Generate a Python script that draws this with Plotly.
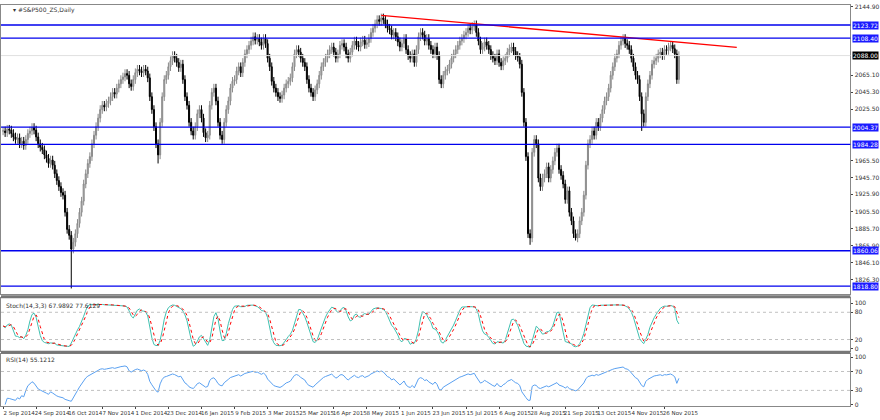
import numpy as np
import pandas as pd
import plotly.graph_objects as go

# ========== DATA ==========
closes = [
    2000, 1998, 2002, 2001, 1997, 1993, 1990, 1992, 1985, 1988,
    1983, 1990, 1997, 2000, 2004, 2001, 1993, 1985, 1981, 1978,
    1972, 1968, 1962, 1966, 1960, 1950, 1942, 1935, 1928, 1925,
    1905, 1885, 1878, 1862, 1870, 1880, 1892, 1905, 1918, 1938,
    1950, 1962, 1970, 1985, 1995, 2005, 2015, 2025, 2030, 2028,
    2032, 2035, 2040, 2045, 2043, 2050, 2055, 2060, 2063, 2067,
    2065, 2055, 2052, 2060, 2068, 2072, 2070, 2068, 2072, 2070,
    2062, 2040, 2025, 2005, 1985, 1972, 2010, 2040, 2060, 2065,
    2075, 2082, 2088, 2085, 2080, 2074, 2078, 2060, 2040, 2030,
    2010, 2000, 1995, 2005, 2020, 2025, 2015, 1998, 1992, 1995,
    2030, 2045, 2050, 2035, 2010, 1995, 1990, 2010, 2025, 2035,
    2050, 2058, 2060, 2070, 2075, 2068, 2080, 2090, 2095, 2100,
    2105, 2110, 2106, 2108, 2104, 2100, 2108, 2102, 2085, 2075,
    2058, 2050, 2045, 2040, 2038, 2042, 2050, 2055, 2058, 2062,
    2075, 2090, 2095, 2092, 2085, 2080, 2075, 2060, 2050, 2045,
    2040, 2048, 2055, 2065, 2075, 2080, 2085, 2090, 2095, 2098,
    2092, 2085, 2090, 2100, 2102, 2098, 2090, 2085, 2092, 2100,
    2105, 2100, 2098, 2104, 2106, 2101, 2103, 2108, 2115, 2120,
    2125, 2130, 2128, 2132, 2130, 2125, 2120, 2118, 2112, 2115,
    2110, 2104, 2098, 2102, 2108, 2095, 2088, 2085, 2090, 2080,
    2095, 2110, 2115, 2112, 2105, 2108, 2100, 2095, 2090, 2098,
    2088, 2060, 2055, 2065, 2070, 2072, 2078, 2085, 2090, 2095,
    2100, 2105, 2108, 2112, 2115, 2120, 2118, 2122, 2124, 2115,
    2105, 2095, 2098, 2104, 2100, 2095, 2088, 2085, 2082, 2090,
    2080, 2076, 2082, 2085, 2092, 2096, 2098, 2093, 2088, 2086,
    2078, 2045, 2010, 1970, 1880, 1875, 1975, 1990, 1985, 1945,
    1935, 1945, 1950, 1958, 1945, 1955, 1965, 1975, 1980, 1955,
    1948, 1938, 1920, 1930, 1905, 1895, 1880, 1875, 1880, 1895,
    1905, 1925, 1960, 1985, 1990, 2000, 1995, 2010, 2005, 2015,
    2025, 2035, 2040, 2050, 2065, 2075, 2085, 2090, 2100, 2105,
    2108, 2102, 2100, 2095, 2085, 2075, 2065, 2060, 2040, 2020,
    2010, 2040, 2055, 2065, 2078, 2082, 2085, 2090, 2092, 2088,
    2095, 2094, 2098, 2100, 2096, 2090, 2060, 2088,
]
spike_lows = {33: 1816, 255: 1867, 277: 1872, 309: 2000, 75: 1962}
WICK = 5

date_labels = ["2 Sep 2014", "24 Sep 2014", "16 Oct 2014", "7 Nov 2014", "1 Dec 2014",
               "23 Dec 2014", "16 Jan 2015", "9 Feb 2015", "3 Mar 2015", "25 Mar 2015",
               "16 Apr 2015", "8 May 2015", "1 Jun 2015", "23 Jun 2015", "15 Jul 2015",
               "6 Aug 2015", "28 Aug 2015", "21 Sep 2015", "13 Oct 2015", "4 Nov 2015",
               "26 Nov 2015"]
price_ticks = [2144.90, 2065.10, 2045.30, 2025.50, 1965.50, 1945.70, 1925.90,
               1905.50, 1885.70, 1865.90, 1846.10, 1826.30]
levels = [2123.72, 2108.40, 2004.37, 1984.28, 1860.06, 1818.80]
trend_pts = ([183, 355], [2135.0, 2097.6])
last_price = 2088.00

# ========== BUILD OHLC ==========
c = pd.Series(closes, dtype=float)
o = c.shift(1).fillna(c.iloc[0])
hi = np.maximum(o, c) + WICK
lo = np.minimum(o, c) - WICK
for k, v in spike_lows.items():
    lo[k] = v
x = np.arange(len(c))

# stochastic 14,3,3 and RSI 14
ll = lo.rolling(14, min_periods=1).min()
hh = hi.rolling(14, min_periods=1).max()
k_fast = 100 * (c - ll) / (hh - ll)
k_slow = k_fast.rolling(3, min_periods=1).mean()
d_line = k_slow.rolling(3, min_periods=1).mean()
delta = c.diff()
gain = delta.clip(lower=0).ewm(alpha=1 / 14, adjust=False).mean()
loss = (-delta.clip(upper=0)).ewm(alpha=1 / 14, adjust=False).mean()
rsi = 100 - 100 / (1 + gain / loss.replace(0, np.nan))

XDOM = 0.973
fig = go.Figure()
fig.add_trace(go.Candlestick(
    x=x, open=o, high=hi, low=lo, close=c, xaxis="x", yaxis="y",
    increasing=dict(line=dict(color="#8a8a8a", width=1), fillcolor="#b5b5b5"),
    decreasing=dict(line=dict(color="#000000", width=1), fillcolor="#000000"),
    whiskerwidth=0, showlegend=False))
fig.add_trace(go.Scatter(x=trend_pts[0], y=trend_pts[1], mode="lines",
                         line=dict(color="red", width=1.3), showlegend=False))
fig.add_trace(go.Scatter(x=x, y=k_slow, mode="lines", line=dict(color="#40c0b0", width=1),
                         xaxis="x2", yaxis="y2", showlegend=False))
fig.add_trace(go.Scatter(x=x, y=d_line, mode="lines", line=dict(color="red", width=1, dash="dot"),
                         xaxis="x2", yaxis="y2", showlegend=False))
fig.add_trace(go.Scatter(x=x, y=rsi, mode="lines", line=dict(color="#5aa0f0", width=1),
                         xaxis="x3", yaxis="y3", showlegend=False))

# horizontal levels
lab_font = dict(size=6, color="white", family="DejaVu Sans")
for lv in levels:
    fig.add_shape(type="line", xref="x domain", yref="y", x0=0, x1=1, y0=lv, y1=lv,
                  line=dict(color="#0000ee", width=1.3))
    fig.add_annotation(xref="paper", yref="y", x=XDOM + 0.002, y=lv, xanchor="left",
                       text=f"{lv:.2f}", showarrow=False, bgcolor="#1a1aff",
                       font=lab_font, borderpad=0)
fig.add_shape(type="line", xref="x domain", yref="y", x0=0, x1=1, y0=last_price, y1=last_price,
              line=dict(color="#e0e0e0", width=1))
fig.add_annotation(xref="paper", yref="y", x=XDOM + 0.002, y=last_price, xanchor="left",
                   text=f"{last_price:.2f}", showarrow=False, bgcolor="black",
                   font=lab_font, borderpad=0)
for yv, ax in [(20, "y2"), (80, "y2"), (30, "y3"), (70, "y3")]:
    fig.add_shape(type="line", xref="x domain", yref=ax, x0=0, x1=1, y0=yv, y1=yv,
                  line=dict(color="#c0c0c0", width=1, dash="dot"))
# panel separators
for yp in [0.2915, 0.158]:
    fig.add_shape(type="line", xref="paper", yref="paper", x0=0, x1=XDOM, y0=yp, y1=yp,
                  line=dict(color="#777", width=3))

fig.add_annotation(xref="paper", yref="paper", x=0.012, y=0.995, xanchor="left", yanchor="top",
                   text="▾ #S&P500_ZS,Daily", showarrow=False, font=dict(size=6, color="#333"))
fig.add_annotation(xref="paper", yref="paper", x=0.003, y=0.284, xanchor="left", yanchor="top",
                   text="Stoch(14,3,3) 67.9892 77.6129", showarrow=False, font=dict(size=6, color="#333"))
fig.add_annotation(xref="paper", yref="paper", x=0.003, y=0.153, xanchor="left", yanchor="top",
                   text="RSI(14) 55.1212", showarrow=False, font=dict(size=6, color="#333"))

xr = [-1, 410]
common_x = dict(range=xr, showgrid=False, zeroline=False, fixedrange=True, showline=True,
                linecolor="#888", mirror=True)
ax_font = dict(size=6, color="#333", family="DejaVu Sans")
yax = dict(side="right", tickfont=ax_font, ticks="outside", ticklen=2, showgrid=False,
           zeroline=False, showline=True, linecolor="#888", mirror=True)
fig.update_layout(
    width=880, height=420, margin=dict(l=0, r=0, t=0, b=0),
    paper_bgcolor="white", plot_bgcolor="white", font=dict(family="DejaVu Sans"),
    xaxis=dict(domain=[0, XDOM], anchor="y", showticklabels=False, rangeslider=dict(visible=False), **common_x),
    yaxis=dict(domain=[0.297, 0.993], range=[1809, 2147.2], tickvals=price_ticks,
               ticktext=[f"{v:.2f}" for v in price_ticks], **yax),
    xaxis2=dict(domain=[0, XDOM], anchor="y2", showticklabels=False, **common_x),
    yaxis2=dict(domain=[0.162, 0.288], range=[-4.4, 111], tickvals=[0, 20, 80, 100], **yax),
    xaxis3=dict(domain=[0, XDOM], anchor="y3", tickvals=list(range(0, 321, 16)), ticktext=date_labels,
                tickangle=0, tickfont=dict(size=5.5, color="#333", family="DejaVu Sans"),
                ticks="outside", ticklen=2, ticklabelshift=16, **common_x),
    yaxis3=dict(domain=[0.03, 0.155], range=[-2, 108], tickvals=[0, 30, 70, 100], **yax),
)
fig.write_html("out.html", post_script="document.body.style.margin='0';",
               config={"displayModeBar": False})
